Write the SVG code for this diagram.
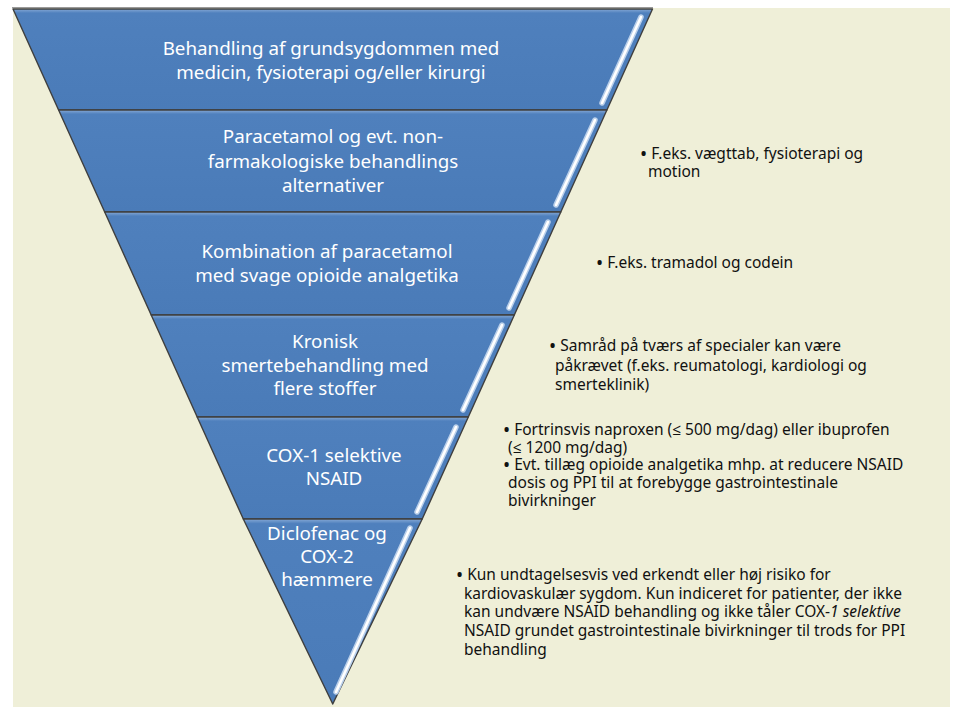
<svg xmlns="http://www.w3.org/2000/svg" width="957" height="707" viewBox="0 0 957 707">
<defs>
<linearGradient id="bandGrad" x1="0" y1="0" x2="0" y2="1">
<stop offset="0" stop-color="#86a9d6"/>
<stop offset="0.04" stop-color="#4f80bd"/>
<stop offset="1" stop-color="#4a7bb8"/>
</linearGradient>
<linearGradient id="tipGrad" x1="0" y1="0" x2="0" y2="1">
<stop offset="0" stop-color="#86a9d6"/>
<stop offset="0.025" stop-color="#4f80bd"/>
<stop offset="1" stop-color="#4a7bb8"/>
</linearGradient>
</defs>
<style>
.band{stroke:#3f3f3f;stroke-width:1.4;stroke-linejoin:round}
.hl1{stroke:#b9cfea;stroke-width:5.5;stroke-linecap:round;fill:none}
.hl2{stroke:#ffffff;stroke-width:2.6;stroke-linecap:round;fill:none}
.lbl{font-family:"Noto Sans","Open Sans","DejaVu Sans",sans-serif;font-size:18.8px;fill:#ffffff;text-anchor:middle}
.note{font-family:"Noto Sans","Open Sans","DejaVu Sans",sans-serif;font-size:15.5px;fill:#111111}
.bul{font-size:19px;baseline-shift:-1.5px}
</style>
<rect x="0" y="0" width="957" height="707" fill="#ffffff"/>
<rect x="13" y="8" width="937" height="699" fill="#efefd8"/>
<line x1="12" y1="7.5" x2="653" y2="7.5" stroke="#9a9a9a" stroke-width="1"/>
<g id="band1">
<polygon class="band" fill="url(#bandGrad)" points="13,9 652.5,9 606.9,110 58.6,110"/>
<line class="hl1" x1="641" y1="17" x2="602" y2="103"/>
<line class="hl2" x1="641" y1="17" x2="602" y2="103"/>
<text class="lbl"><tspan x="331" y="55">Behandling af grundsygdommen med</tspan><tspan x="331" y="79">medicin, fysioterapi og/eller kirurgi</tspan></text>
</g>
<g id="band2">
<polygon class="band" fill="url(#bandGrad)" points="58.6,110 606.9,110 560.8,212 104.7,212"/>
<line class="hl1" x1="595" y1="120" x2="556" y2="205"/>
<line class="hl2" x1="595" y1="120" x2="556" y2="205"/>
<text class="lbl"><tspan x="333" y="143">Paracetamol og evt. non-</tspan><tspan x="333" y="168">farmakologiske behandlings</tspan><tspan x="333" y="192">alternativer</tspan></text>
</g>
<g id="band3">
<polygon class="band" fill="url(#bandGrad)" points="104.7,212 560.8,212 514.3,315 151.2,315"/>
<line class="hl1" x1="548" y1="222" x2="509" y2="308"/>
<line class="hl2" x1="548" y1="222" x2="509" y2="308"/>
<text class="lbl"><tspan x="327" y="258">Kombination af paracetamol</tspan><tspan x="327" y="282">med svage opioide analgetika</tspan></text>
</g>
<g id="band4">
<polygon class="band" fill="url(#bandGrad)" points="151.2,315 514.3,315 468.3,417 197.2,417"/>
<line class="hl1" x1="502" y1="325" x2="463" y2="410"/>
<line class="hl2" x1="502" y1="325" x2="463" y2="410"/>
<text class="lbl"><tspan x="325" y="348">Kronisk</tspan><tspan x="325" y="372">smertebehandling med</tspan><tspan x="325" y="395">flere stoffer</tspan></text>
</g>
<g id="band5">
<polygon class="band" fill="url(#bandGrad)" points="197.2,417 468.3,417 422.2,519 243.3,519"/>
<line class="hl1" x1="456" y1="427" x2="417" y2="512"/>
<line class="hl2" x1="456" y1="427" x2="417" y2="512"/>
<text class="lbl"><tspan x="334" y="462">COX-1 selektive</tspan><tspan x="334" y="485">NSAID</tspan></text>
</g>
<g id="band6">
<polygon class="band" fill="url(#tipGrad)" points="243.3,519 422.2,519 332.75,704"/>
<line class="hl1" x1="410" y1="528" x2="336" y2="692"/>
<line class="hl2" x1="410" y1="528" x2="336" y2="692"/>
<text class="lbl"><tspan x="327" y="540">Diclofenac og</tspan><tspan x="327" y="563">COX-2</tspan><tspan x="327" y="586">hæmmere</tspan></text>
</g>
<g id="note1">
<text class="note"><tspan x="640" y="159"><tspan class="bul">•</tspan> F.eks. vægttab, fysioterapi og</tspan><tspan x="648" y="177">motion</tspan></text>
</g>
<g id="note2">
<text class="note" x="596" y="268"><tspan class="bul">•</tspan> F.eks. tramadol og codein</text>
</g>
<g id="note3">
<text class="note"><tspan x="549" y="351"><tspan class="bul">•</tspan> Samråd på tværs af specialer kan være</tspan><tspan x="555" y="371">påkrævet (f.eks. reumatologi, kardiologi og</tspan><tspan x="555" y="390">smerteklinik)</tspan></text>
</g>
<g id="note4">
<text class="note"><tspan x="503" y="435"><tspan class="bul">•</tspan> Fortrinsvis naproxen (≤ 500 mg/dag) eller ibuprofen</tspan><tspan x="508" y="453">(≤ 1200 mg/dag)</tspan></text>
<text class="note"><tspan x="503" y="470"><tspan class="bul">•</tspan> Evt. tillæg opioide analgetika mhp. at reducere NSAID</tspan><tspan x="508" y="488">dosis og PPI til at forebygge gastrointestinale</tspan><tspan x="508" y="506">bivirkninger</tspan></text>
</g>
<g id="note5">
<text class="note"><tspan x="456" y="580"><tspan class="bul">•</tspan> Kun undtagelsesvis ved erkendt eller høj risiko for</tspan><tspan x="464" y="599">kardiovaskulær sygdom. Kun indiceret for patienter, der ikke</tspan><tspan x="464" y="617">kan undvære NSAID behandling og ikke tåler COX-<tspan font-style="italic">1 selektive</tspan></tspan><tspan x="464" y="636">NSAID grundet gastrointestinale bivirkninger til trods for PPI</tspan><tspan x="464" y="655">behandling</tspan></text>
</g>
<g id="connectors"/>
</svg>
